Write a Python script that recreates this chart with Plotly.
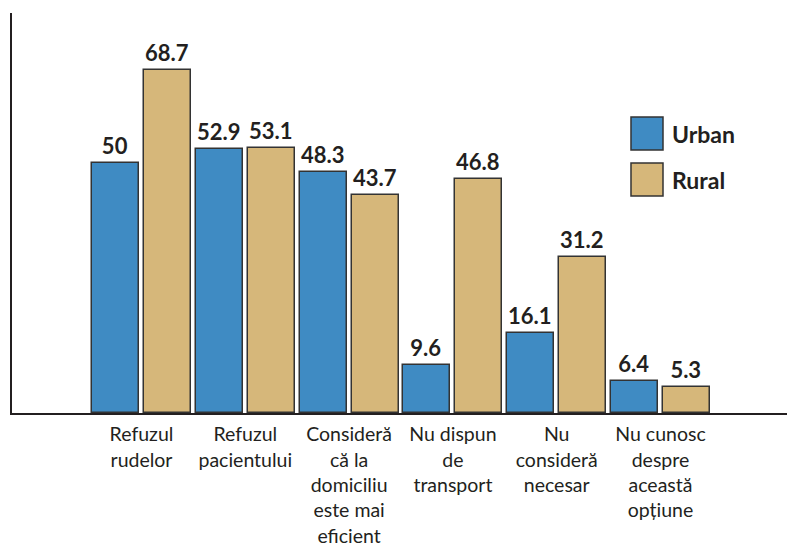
import plotly.graph_objects as go

categories = [
    "Refuzul<br>rudelor",
    "Refuzul<br>pacientului",
    "Consideră<br>că la<br>domiciliu<br>este mai<br>eficient",
    "Nu dispun<br>de<br>transport",
    "Nu<br>consideră<br>necesar",
    "Nu cunosc<br>despre<br>această<br>opțiune",
]
urban = [50, 52.9, 48.3, 9.6, 16.1, 6.4]
rural = [68.7, 53.1, 43.7, 46.8, 31.2, 5.3]
series_names = ["Urban", "Rural"]
colors = ["#3f8bc3", "#d6b77a"]

FONT = "Lato"
TXT = "#231f20"

fig = go.Figure()
for name, vals, col, off in [
    (series_names[0], urban, colors[0], -0.477),
    (series_names[1], rural, colors[1], 0.024),
]:
    fig.add_trace(go.Bar(
        x=categories, y=vals, name=name,
        width=0.453, offset=off,
        marker=dict(color=col, line=dict(color="#333333", width=1.5)),
        text=[f"<b>{v:g}</b>" for v in vals], textposition="outside",
        textfont=dict(family=FONT, size=22, color=TXT),
        cliponaxis=False, showlegend=False,
    ))

# legend drawn as large swatches
leg_y = [(0.74, 0.6575), (0.625, 0.5425)]
for (y0, y1), name, col in zip(leg_y, series_names, colors):
    fig.add_shape(type="rect", xref="paper", yref="paper",
                  x0=0.7987, x1=0.84, y0=y1, y1=y0,
                  fillcolor=col, line=dict(color="#333333", width=1.5))
    fig.add_annotation(xref="paper", yref="paper", x=0.849, y=(y0 + y1) / 2,
                       text=f"<b>{name}</b>", showarrow=False, xanchor="left", yanchor="middle",
                       font=dict(family=FONT, size=23, color=TXT))

fig.update_layout(
    width=787, height=546,
    margin=dict(l=12, r=0, t=13, b=133, autoexpand=False),
    plot_bgcolor="white", paper_bgcolor="white",
    bargap=0, showlegend=False,
    font=dict(family=FONT, color=TXT),
)
fig.update_xaxes(
    range=[-1.2476, 6.2187], showline=True, linecolor=TXT, linewidth=2,
    showgrid=False, ticks="", tickfont=dict(family=FONT, size=19.5, color=TXT),
    ticklabelstandoff=3, tickangle=0, automargin=False,
)
fig.update_yaxes(
    range=[0, 80], showline=True, linecolor=TXT, linewidth=2,
    showgrid=False, zeroline=False, showticklabels=False, ticks="", automargin=False,
)

fig.write_html(
    "out.html",
    config={"displayModeBar": False},
    post_script="document.body.style.margin='0';document.body.style.overflow='hidden';",
)
